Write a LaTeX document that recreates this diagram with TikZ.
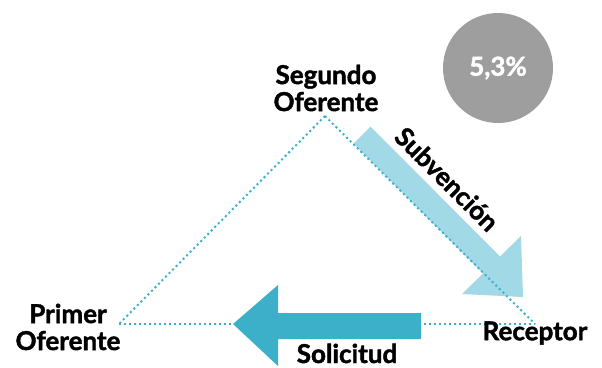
\documentclass[tikz,border=0pt]{standalone}
\usepackage{fontspec}
\setmainfont{Lato}[BoldFeatures={FakeBold=1.6}]
\definecolor{dotblue}{HTML}{3BB0C9}
\definecolor{lightarrow}{HTML}{A2D9E6}
\definecolor{darkarrow}{HTML}{3CB0C9}
\definecolor{circgray}{HTML}{9E9E9E}
\begin{document}
\begin{tikzpicture}[x=1pt,y=-1pt,
  dotline/.style={draw=dotblue,line width=2pt,dash pattern=on 2pt off 3pt},
  lbl/.style={font=\fontsize{26}{27}\selectfont\bfseries,align=center,inner sep=0pt,text=black}]
\useasboundingbox (0,0) rectangle (602,367);
% vertices
\coordinate (top) at (325,116);
\coordinate (left) at (119,324);
\coordinate (right) at (535,324);
% dotted triangle (behind arrows)
\draw[dotline] (left) -- (right);
\draw[dotline] (top) -- (left);
% Solicitud arrow
\fill[darkarrow] (421,313) -- (278,313) -- (278,285) -- (233,324) -- (278,366) -- (278,339) -- (421,339) -- cycle;
% Subvencion arrow
\fill[lightarrow] (353.5,143.5) -- (370.5,126.5) -- (500,256.5) -- (521,236) -- (523,297) -- (462,294) -- (483,273.5) -- cycle;
% right side dotted on top
\draw[dotline] (top) -- (right);
% circle
\node[circle,fill=circgray,minimum size=110pt,inner sep=0pt,text=white,font=\fontsize{26}{26}\selectfont\bfseries] (pct) at (498,68) {5,3\%};
% labels
\node[lbl] (seg) at (326,88) {Segundo\\Oferente};
\node[lbl] (prim) at (68,327) {Primer\\Oferente};
\node[lbl] (rec) at (535,333) {Receptor};
\node[lbl,anchor=base,align=left,text depth=0pt] (sol) at (347,363) {Solicitud};
\node[lbl,rotate=-45] (sub) at (447,179) {Subvención};
\end{tikzpicture}
\end{document}
